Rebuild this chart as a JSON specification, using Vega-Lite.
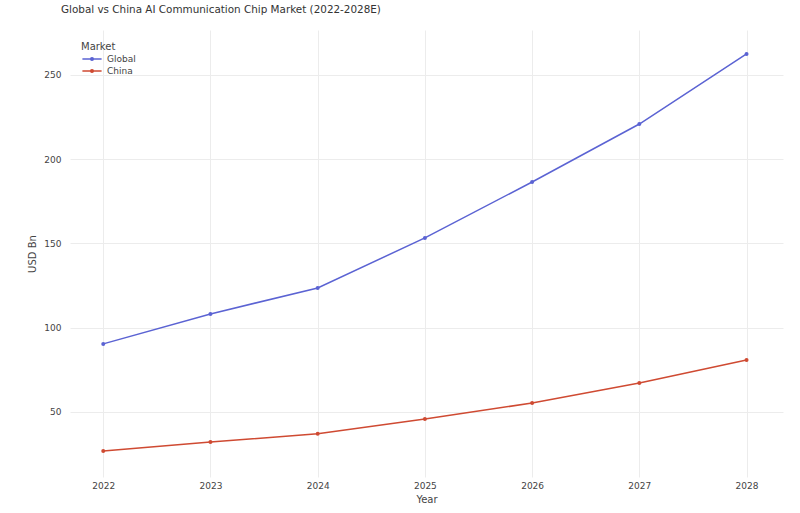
{
  "$schema": "https://vega.github.io/schema/vega-lite/v6.json",
  "width": 713,
  "height": 447,
  "autosize": {"type": "none"},
  "padding": {"left": 70, "top": 30, "right": 17, "bottom": 36},
  "background": "white",
  "title": {
    "text": "Global vs China AI Communication Chip Market (2022-2028E)",
    "anchor": "start",
    "frame": "group",
    "dx": -9,
    "offset": 15,
    "fontSize": 10.4,
    "fontWeight": "normal",
    "font": "DejaVu Sans",
    "color": "#333"
  },
  "config": {
    "view": {"stroke": null},
    "font": "DejaVu Sans",
    "axis": {
      "domain": false,
      "ticks": false,
      "gridColor": "#ececec",
      "gridWidth": 1,
      "labelFontSize": 9,
      "labelColor": "#444",
      "titleFontSize": 10,
      "titleFontWeight": "normal",
      "titleColor": "#444"
    }
  },
  "data": {
    "values": [
      {"Year": 2022, "Market": "Global", "Value": 90.4},
      {"Year": 2023, "Market": "Global", "Value": 108.2},
      {"Year": 2024, "Market": "Global", "Value": 123.6},
      {"Year": 2025, "Market": "Global", "Value": 153.3},
      {"Year": 2026, "Market": "Global", "Value": 186.5},
      {"Year": 2027, "Market": "Global", "Value": 220.9},
      {"Year": 2028, "Market": "Global", "Value": 262.5},
      {"Year": 2022, "Market": "China", "Value": 26.9},
      {"Year": 2023, "Market": "China", "Value": 32.2},
      {"Year": 2024, "Market": "China", "Value": 37.0},
      {"Year": 2025, "Market": "China", "Value": 45.8},
      {"Year": 2026, "Market": "China", "Value": 55.3},
      {"Year": 2027, "Market": "China", "Value": 67.2},
      {"Year": 2028, "Market": "China", "Value": 80.9}
    ]
  },
  "encoding": {
    "x": {
      "field": "Year",
      "type": "quantitative",
      "scale": {"domain": [2021.69, 2028.34], "nice": false, "zero": false},
      "axis": {"values": [2022, 2023, 2024, 2025, 2026, 2027, 2028], "format": "d", "labelPadding": 4, "titlePadding": 4, "title": "Year"}
    },
    "y": {
      "field": "Value",
      "type": "quantitative",
      "scale": {"domain": [11.4, 276.7], "nice": false, "zero": false},
      "axis": {"values": [50, 100, 150, 200, 250], "labelPadding": 9, "titlePadding": 6, "title": "USD Bn"}
    },
    "color": {
      "field": "Market",
      "type": "nominal",
      "sort": ["Global", "China"],
      "scale": {"domain": ["Global", "China"], "range": ["#5b63d3", "#cf4a32"]},
      "legend": {
        "orient": "none",
        "legendX": 11,
        "legendY": 12,
        "title": "Market",
        "titleFontSize": 10,
        "titleFontWeight": "normal",
        "titleColor": "#444",
        "titlePadding": 0,
        "labelFontSize": 9,
        "labelColor": "#444",
        "symbolType": "M-1.6,0L1.6,0M-0.22,0a0.22,0.22 0 1,0 0.44,0a0.22,0.22 0 1,0 -0.44,0",
        "symbolSize": 144,
        "symbolStrokeWidth": 1.5,
        "symbolOffset": 4,
        "rowPadding": 0,
        "labelOffset": 8
      }
    }
  },
  "layer": [
    {"mark": {"type": "line", "strokeWidth": 1.5}},
    {"mark": {"type": "circle", "size": 16, "opacity": 1}}
  ]
}
